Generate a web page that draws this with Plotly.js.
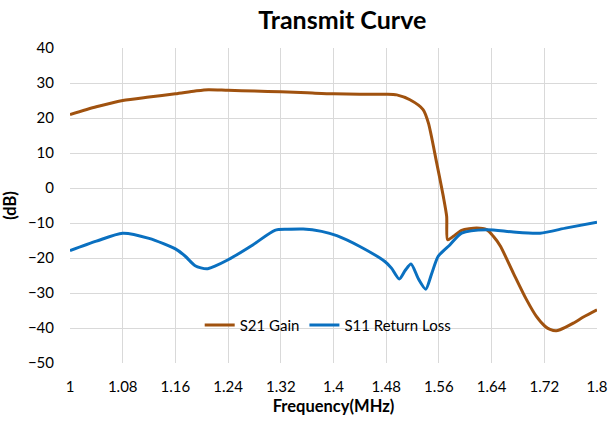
<!DOCTYPE html>
<html>
<head>
<meta charset="utf-8">
<script src="https://cdn.plot.ly/plotly-3.0.1.min.js"></script>
<style>html,body{margin:0;padding:0;background:#fff;}#chart{width:608px;height:421px;}</style>
</head>
<body>
<div id="chart"></div>
<script>
var s21Freq = [1.00, 1.04, 1.08, 1.12, 1.16, 1.19, 1.21, 1.24, 1.28, 1.32, 1.36, 1.40, 1.44, 1.48, 1.496, 1.516, 1.536, 1.544, 1.5567, 1.5667, 1.5718, 1.5733, 1.582, 1.5945, 1.6173, 1.6325, 1.6426, 1.653, 1.673, 1.693, 1.708, 1.721, 1.7287, 1.738, 1.7438, 1.764, 1.78, 1.80];
var s21Gain = [21.0, 23.2, 25.0, 26.0, 26.9, 27.7, 28.1, 27.9, 27.7, 27.5, 27.2, 26.9, 26.8, 26.8, 26.6, 25.2, 22.4, 18.6, 7.1, -2.4, -8.1, -14.8, -13.8, -12.1, -11.4, -11.9, -13.8, -16.5, -24.3, -31.9, -36.7, -39.5, -40.4, -40.8, -40.5, -38.6, -36.8, -34.8];
var s11Freq = [1.00, 1.04, 1.08, 1.12, 1.16, 1.175, 1.19, 1.2075, 1.22, 1.24, 1.278, 1.311, 1.33, 1.354, 1.382, 1.405, 1.44, 1.478, 1.488, 1.4999, 1.509, 1.5177, 1.529, 1.54, 1.549, 1.559, 1.5769, 1.5945, 1.6325, 1.673, 1.7135, 1.754, 1.80];
var s11Loss = [-17.9, -15.2, -12.9, -14.4, -17.4, -19.5, -22.2, -23.1, -22.3, -20.5, -16.2, -12.1, -11.8, -11.7, -12.4, -13.6, -16.7, -21.0, -22.9, -26.0, -23.5, -21.7, -26.0, -28.9, -24.5, -19.5, -16.2, -12.9, -11.9, -12.6, -12.9, -11.4, -9.8];
var xTicks = [1, 1.08, 1.16, 1.24, 1.32, 1.4, 1.48, 1.56, 1.64, 1.72, 1.8];
var xTickLabels = ['1', '1.08', '1.16', '1.24', '1.32', '1.4', '1.48', '1.56', '1.64', '1.72', '1.8'];
var yTicks = [40, 30, 20, 10, 0, -10, -20, -30, -40, -50];

var FONT = 'Lato, "Open Sans", sans-serif';
var traces = [
  {x: s21Freq, y: s21Gain, name: 'S21 Gain', type: 'scatter', mode: 'lines',
   line: {color: '#A0520F', width: 3, shape: 'spline', smoothing: 0.7}},
  {x: s11Freq, y: s11Loss, name: 'S11 Return Loss', type: 'scatter', mode: 'lines',
   line: {color: '#0A70C0', width: 3, shape: 'spline', smoothing: 0.7}}
];
var layout = {
  width: 608, height: 421,
  margin: {l: 70, r: 11, t: 48, b: 58},
  paper_bgcolor: '#fff', plot_bgcolor: '#fff',
  font: {family: FONT, size: 15, color: '#333'},
  title: {text: '<b>Transmit Curve</b>', font: {family: FONT, size: 25, color: '#000'},
          xref: 'container', yref: 'container', x: 0.563, xanchor: 'center', y: 0.952, yanchor: 'middle'},
  xaxis: {range: [1, 1.8], tickmode: 'array', tickvals: xTicks, ticktext: xTickLabels,
          showgrid: true, gridcolor: '#d9d9d9', gridwidth: 1, zeroline: false,
          showline: false, ticks: '', ticklabelstandoff: 13,
          tickfont: {family: FONT, size: 15, color: '#000'},
          title: {text: '<b>Frequency(MHz)</b>', font: {family: FONT, size: 16.5, color: '#000'}, standoff: 6}},
  yaxis: {range: [-50, 40], tickmode: 'array', tickvals: yTicks,
          showgrid: true, gridcolor: '#d9d9d9', gridwidth: 1, zeroline: false,
          showline: false, ticks: '', ticklabelstandoff: 15,
          tickfont: {family: FONT, size: 15, color: '#000'},
          title: {text: '<b>(dB)</b>', font: {family: FONT, size: 16.5, color: '#000'}, standoff: 8}},
  legend: {orientation: 'h', x: 0.489, xanchor: 'center', y: 0.12, yanchor: 'middle',
           bgcolor: 'rgba(0,0,0,0)', font: {family: FONT, size: 15, color: '#000'},
           itemwidth: 30, traceorder: 'normal'},
  showlegend: true
};
Plotly.newPlot('chart', traces, layout, {displayModeBar: false, staticPlot: true});
</script>
</body>
</html>
